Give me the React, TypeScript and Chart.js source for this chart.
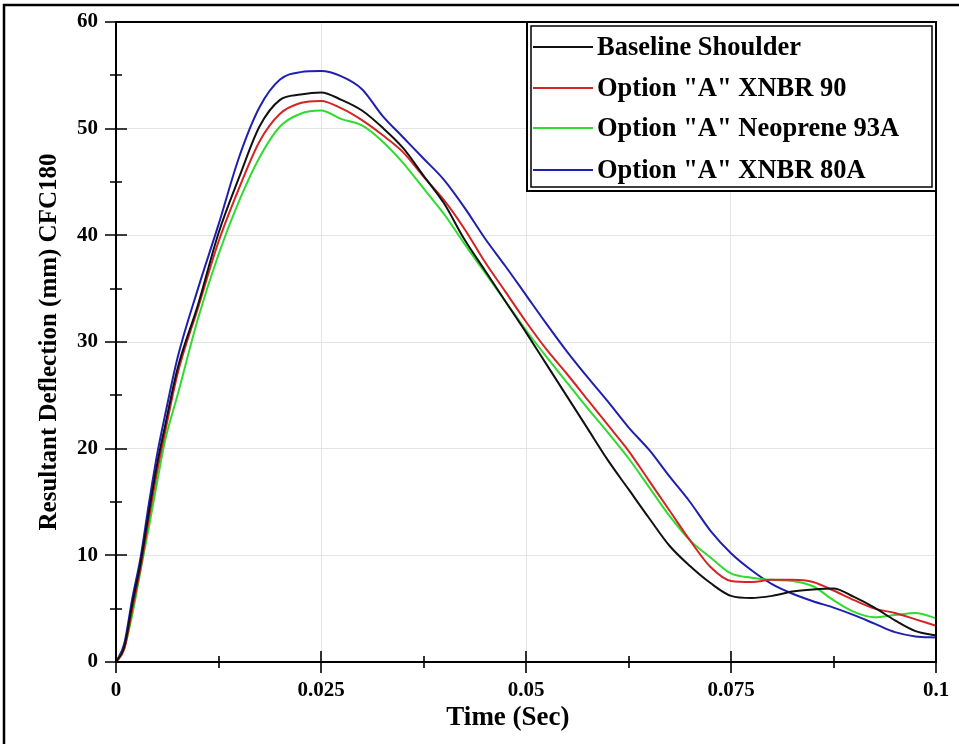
import { useEffect, useRef } from "react";
import { Chart, registerables } from "chart.js";

Chart.register(...registerables);

const FONT = '"Liberation Serif", "Times New Roman", serif';

const xTitle = "Time (Sec)";
const yTitle = "Resultant Deflection (mm) CFC180";

// Time (s)
const times = [
  0, 0.001, 0.002, 0.003, 0.004, 0.005, 0.006, 0.0075, 0.01, 0.0125, 0.015, 0.0175,
  0.02, 0.0225, 0.025, 0.0275, 0.03, 0.0325, 0.035, 0.0375, 0.04, 0.0425, 0.045,
  0.0475, 0.05, 0.0525, 0.055, 0.0575, 0.06, 0.0625, 0.065, 0.0675, 0.07, 0.0725,
  0.075, 0.0775, 0.08, 0.0825, 0.085, 0.0875, 0.09, 0.0925, 0.095, 0.0975, 0.1,
];

const seriesNames = [
  "Baseline Shoulder",
  'Option "A" XNBR 90',
  'Option "A" Neoprene 93A',
  'Option "A" XNBR 80A',
];

const baseline = [
  0, 1.4, 5.5, 9.3, 14.0, 18.5, 22.2, 27.5, 33.5, 40.2, 45.4, 50.2, 52.7, 53.2,
  53.4, 52.7, 51.7, 50.1, 48.2, 45.6, 43.0, 39.6, 36.7, 33.8, 30.9, 27.9, 24.9,
  21.9, 18.9, 16.2, 13.5, 10.9, 9.0, 7.4, 6.2, 6.0, 6.2, 6.6, 6.8, 6.9, 6.1, 5.1,
  3.9, 2.9, 2.5,
];

const xnbr90 = [
  0, 1.2, 5.0, 8.8, 13.4, 17.8, 21.6, 27.0, 33.2, 39.4, 44.4, 48.8, 51.4, 52.4,
  52.6, 51.9, 50.8, 49.4, 47.8, 45.5, 43.3, 40.6, 37.5, 34.7, 31.9, 29.3, 27.0,
  24.6, 22.2, 19.8, 17.0, 14.2, 11.4, 8.9, 7.6, 7.5, 7.7, 7.7, 7.5, 6.7, 5.8, 5.0,
  4.6, 4.0, 3.4,
];

const neoprene93A = [
  0, 1.3, 4.5, 8.6, 12.6, 16.8, 20.8, 25.0, 32.2, 38.2, 43.2, 47.3, 50.2, 51.4,
  51.7, 50.9, 50.3, 48.8, 46.8, 44.4, 42.0, 39.2, 36.5, 33.8, 31.1, 28.6, 26.2,
  23.8, 21.5, 19.1, 16.4, 13.7, 11.4, 9.8, 8.3, 7.9, 7.7, 7.6, 7.1, 5.8, 4.7, 4.2,
  4.4, 4.6, 4.1,
];

const xnbr80A = [
  0, 1.7, 6.0, 9.8, 14.8, 19.4, 23.2, 28.5, 35.0, 41.0, 47.3, 52.0, 54.6, 55.3,
  55.4, 54.9, 53.7, 51.2, 49.2, 47.2, 45.2, 42.6, 39.7, 37.1, 34.4, 31.7, 29.1,
  26.7, 24.4, 22.0, 19.9, 17.4, 15.0, 12.3, 10.2, 8.6, 7.3, 6.4, 5.7, 5.1, 4.4,
  3.6, 2.8, 2.4, 2.3,
];

const seriesValues = [baseline, xnbr90, neoprene93A, xnbr80A];
const seriesColors = ["#111111", "#d42424", "#2edc2e", "#1f1fb0"];

const yTicks = { min: 0, max: 60, step: 10, minorStep: 5 };
const xTicks = { min: 0, max: 0.1, step: 0.025, minorStep: 0.0125 };

const decoPlugin = {
  id: "deco",
  afterDraw(chart: any) {
    const { ctx, chartArea: ca, scales } = chart;
    const xs = scales.x;
    const ys = scales.y;
    ctx.save();
    ctx.strokeStyle = "#000";
    // outer frame (left and top visible)
    ctx.lineWidth = 2.5;
    ctx.beginPath();
    ctx.moveTo(4, 800);
    ctx.lineTo(4, 5);
    ctx.lineTo(1000, 5);
    ctx.stroke();
    // plot box top/right
    ctx.lineWidth = 2;
    ctx.beginPath();
    ctx.moveTo(ca.left, ca.top);
    ctx.lineTo(ca.right, ca.top);
    ctx.lineTo(ca.right, ca.bottom);
    ctx.stroke();
    // y ticks
    ctx.lineWidth = 1.6;
    ctx.beginPath();
    for (let v = yTicks.min; v <= yTicks.max + 1e-9; v += yTicks.minorStep) {
      const y = Math.round(ys.getPixelForValue(v));
      const major = Math.abs(v / yTicks.step - Math.round(v / yTicks.step)) < 1e-6;
      const len = major ? 11 : 6;
      ctx.moveTo(ca.left - len, y);
      ctx.lineTo(ca.left + len, y);
    }
    // x ticks
    for (let i = 0; i <= 8; i++) {
      const v = xTicks.min + i * xTicks.minorStep;
      const x = Math.round(xs.getPixelForValue(v));
      const len = i % 2 === 0 ? 11 : 6;
      ctx.moveTo(x, ca.bottom - len);
      ctx.lineTo(x, ca.bottom + len);
    }
    ctx.stroke();

    // x axis title
    ctx.fillStyle = "#000";
    ctx.font = `bold 27px ${FONT}`;
    ctx.textAlign = "center";
    ctx.textBaseline = "middle";
    ctx.fillText(xTitle, xs.getPixelForValue(0.0478), 718);

    // legend
    const w = 409;
    const h = 169;
    const lx = ca.right - w;
    const ly = ca.top;
    ctx.fillStyle = "#fff";
    ctx.fillRect(lx, ly, w, h);
    ctx.lineWidth = 2;
    ctx.strokeRect(lx, ly, w, h);
    ctx.lineWidth = 1.5;
    ctx.strokeRect(lx + 4, ly + 4, w - 8, h - 8);
    const rows = [25, 66, 106, 148];
    chart.data.datasets.forEach((ds: any, i: number) => {
      const cy = ly + rows[i];
      ctx.strokeStyle = ds.borderColor;
      ctx.lineWidth = 2;
      ctx.beginPath();
      ctx.moveTo(lx + 6, cy);
      ctx.lineTo(lx + 66, cy);
      ctx.stroke();
      ctx.fillStyle = "#000";
      ctx.font = `bold 26.5px ${FONT}`;
      ctx.textBaseline = "middle";
      ctx.textAlign = "left";
      ctx.fillText(ds.label, lx + 70, cy + 1);
    });
    ctx.restore();
  },
};

export default function App() {
  const ref = useRef<HTMLCanvasElement | null>(null);

  useEffect(() => {
    if (!ref.current) return;
    const chart = new Chart(ref.current, {
      type: "line",
      data: {
        datasets: seriesNames.map((name, i) => ({
          label: name,
          data: times.map((t, j) => ({ x: t, y: seriesValues[i][j] })),
          borderColor: seriesColors[i],
          backgroundColor: seriesColors[i],
          borderWidth: 2,
          pointRadius: 0,
          cubicInterpolationMode: "monotone" as const,
          fill: false,
        })),
      },
      options: {
        animation: false,
        responsive: false,
        devicePixelRatio: 1,
        layout: { padding: { left: 0, top: 22, right: 23, bottom: 0 } },
        plugins: {
          legend: { display: false },
          tooltip: { enabled: false },
        },
        scales: {
          x: {
            type: "linear",
            min: xTicks.min,
            max: xTicks.max,
            afterFit: (s: any) => {
              s.height = 82;
              s.paddingLeft = 0;
              s.paddingRight = 0;
            },
            ticks: {
              stepSize: xTicks.step,
              color: "#000",
              font: { family: FONT, size: 21, weight: "bold" },
              padding: 16,
              maxRotation: 0,
              callback: (v: any) => String(+Number(v).toFixed(4)),
            },
            grid: { color: "#e4e4e4", lineWidth: 1, drawTicks: false },
            border: { display: true, color: "#000", width: 2 },
            title: { display: false, text: xTitle },
          },
          y: {
            min: yTicks.min,
            max: yTicks.max,
            afterFit: (s: any) => {
              s.width = 116;
              s.paddingTop = 0;
              s.paddingBottom = 0;
            },
            ticks: {
              stepSize: yTicks.step,
              color: "#000",
              font: { family: FONT, size: 21, weight: "bold" },
              padding: 18,
            },
            grid: { color: "#e4e4e4", lineWidth: 1, drawTicks: false },
            border: { display: true, color: "#000", width: 2 },
            title: {
              display: true,
              text: yTitle,
              color: "#000",
              font: { family: FONT, size: 25, weight: "bold" },
              padding: { top: 35, bottom: 0 },
            },
          },
        },
      },
      plugins: [decoPlugin],
    });
    return () => chart.destroy();
  }, []);

  return (
    <div style={{ position: "absolute", left: 0, top: 0, width: 959, height: 744, background: "#fff" }}>
      <canvas ref={ref} width={959} height={744} style={{ width: 959, height: 744, display: "block" }} />
    </div>
  );
}
